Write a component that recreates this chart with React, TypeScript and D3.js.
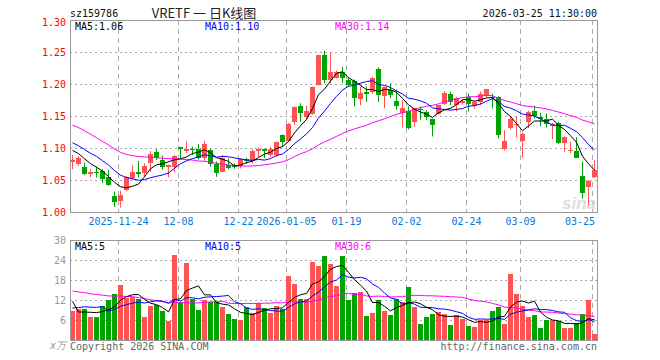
import React from 'react';
import * as d3 from 'd3';

// ---- data ----
const open = [1.078,1.075,1.071,1.060,1.063,1.064,1.054,1.025,1.017,1.035,
1.053,1.062,1.061,1.077,1.094,1.081,1.071,1.071,1.101,1.095,
1.099,1.099,1.084,1.097,1.075,1.063,1.073,1.072,1.072,1.083,
1.079,1.096,1.098,1.089,1.089,1.120,1.111,1.140,1.166,1.149,
1.153,1.198,1.245,1.206,1.210,1.218,1.206,1.204,1.176,1.187,
1.188,1.224,1.181,1.191,1.173,1.154,1.158,1.140,1.161,1.157,
1.145,1.153,1.169,1.184,1.167,1.171,1.179,1.166,1.172,1.182,
1.180,1.180,1.098,1.131,1.136,1.111,1.140,1.158,1.148,1.145,
1.135,1.139,1.108,1.096,1.095,1.056,1.039,1.054];

const high = [1.089,1.087,1.077,1.067,1.071,1.067,1.066,1.032,1.033,1.056,
1.073,1.080,1.076,1.095,1.099,1.088,1.074,1.089,1.101,1.110,
1.102,1.106,1.111,1.099,1.079,1.089,1.084,1.076,1.084,1.085,
1.098,1.101,1.099,1.102,1.110,1.121,1.139,1.165,1.170,1.166,
1.196,1.245,1.252,1.250,1.221,1.227,1.211,1.207,1.196,1.196,
1.211,1.226,1.196,1.201,1.191,1.175,1.165,1.162,1.165,1.159,
1.146,1.167,1.189,1.188,1.180,1.175,1.185,1.174,1.188,1.192,
1.185,1.181,1.128,1.150,1.149,1.124,1.158,1.166,1.155,1.154,
1.139,1.141,1.118,1.110,1.117,1.079,1.050,1.081];

const low = [1.067,1.072,1.058,1.054,1.054,1.045,1.041,1.008,1.007,1.033,
1.050,1.054,1.055,1.063,1.081,1.066,1.054,1.062,1.084,1.092,
1.089,1.082,1.079,1.071,1.055,1.062,1.067,1.068,1.068,1.075,
1.076,1.086,1.084,1.086,1.086,1.102,1.110,1.136,1.141,1.144,
1.152,1.198,1.201,1.201,1.209,1.201,1.196,1.165,1.167,1.172,
1.185,1.172,1.162,1.178,1.160,1.132,1.129,1.133,1.144,1.144,
1.118,1.152,1.167,1.167,1.157,1.168,1.157,1.162,1.167,1.179,
1.162,1.115,1.096,1.129,1.117,1.085,1.131,1.146,1.134,1.132,
1.114,1.106,1.094,1.092,1.085,1.021,1.011,1.053];

const close = [1.082,1.084,1.060,1.062,1.062,1.051,1.042,1.015,1.027,1.054,
1.063,1.059,1.072,1.090,1.085,1.071,1.074,1.088,1.098,1.099,
1.098,1.085,1.106,1.075,1.061,1.085,1.068,1.070,1.083,1.080,
1.095,1.098,1.096,1.098,1.109,1.110,1.137,1.164,1.154,1.158,
1.196,1.245,1.206,1.218,1.218,1.209,1.198,1.178,1.186,1.185,
1.209,1.183,1.195,1.183,1.165,1.162,1.132,1.162,1.160,1.149,
1.136,1.167,1.186,1.172,1.178,1.174,1.169,1.172,1.184,1.192,
1.178,1.120,1.111,1.145,1.137,1.122,1.157,1.150,1.145,1.137,
1.137,1.108,1.117,1.097,1.085,1.029,1.049,1.066];

// volume in 万
const volume = [8.7,9.3,9.3,6.9,6.9,10.2,12,13.8,16.5,12.6,
13,12.3,6.9,10.3,10.5,8.7,5.7,25.5,11.3,23.1,
12.3,9,12,11.3,11.5,10,7.7,6.3,6.0,9.8,
8.2,11,9.6,8.2,10.2,9.2,19.3,16.9,12.2,12.2,
23.5,22.3,25.3,22.8,16.2,25.3,12,14.2,14.5,7.3,
8.2,12,8.7,7.5,12.3,11.3,16,10,4.8,6.9,
7.8,8.3,7.8,4.5,7.5,6.3,4.2,3.9,6.0,6.0,
8.7,9.9,4.8,19.8,13.8,10.2,6.9,7.5,3.6,6.0,
6.0,5.7,3.6,3.6,5.1,7.8,12,1.8];

// sessions before the first visible candle (only feed the moving averages)
const prevCloses = [1.20,1.21,1.22,1.23,1.22,1.21,1.20,1.19,
1.15,1.12,1.10,1.09,1.10,1.11,1.10,1.09,1.10,1.11,1.12,1.12,
1.13,1.12,1.12,1.11,1.12,1.11,1.10,1.10,1.09];
const prevVolumes = [18,15,17,14,16,19,15,16,17,14.5,
20,17,19,22,16,18,19,17,20,15.5,
8,7,8,7.5,7.5,25.3,9.3,7.4,7.3];

const dateTickIndex = [8, 18, 28, 36, 46, 56, 66, 75, 87];
const dateTickLabels = ['2025-11-24','12-08','12-22','2026-01-05','01-19','02-02','02-24','03-09','03-25'];
const priceTicks = [1.30, 1.25, 1.20, 1.15, 1.10, 1.05, 1.00];
const volTicks = [30, 24, 18, 12, 6];

const RED = '#ff5252';
const GREEN = '#00a400';
const GRID = '#aaaaaa';
const BORDER = '#999999';
const MONO = '"DejaVu Sans Mono", "Liberation Mono", monospace';

function movingAvg(prev: number[], vals: number[], n: number): number[] {
  const all = prev.concat(vals);
  const off = prev.length;
  return vals.map((_, i) => d3.mean(all.slice(off + i - n + 1, off + i + 1)) as number);
}

export default function App() {
  const left = 70, right = 597;
  const pTop = 20, pBot = 212, vTop = 240, vBot = 340;
  const n = close.length;
  const x = d3.scaleLinear().domain([0, n - 1]).range([72, 594]);
  const yP = d3.scaleLinear().domain([1.0, 1.3]).range([pBot, pTop]);
  const yV = d3.scaleLinear().domain([0, 30]).range([vBot, vTop]);

  const pMA5 = movingAvg(prevCloses, close, 5);
  const pMA10 = movingAvg(prevCloses, close, 10);
  const pMA30 = movingAvg(prevCloses, close, 30);
  const vMA5 = movingAvg(prevVolumes, volume, 5);
  const vMA10 = movingAvg(prevVolumes, volume, 10);
  const vMA30 = movingAvg(prevVolumes, volume, 30);

  const lineP = d3.line<number>().x((_, i) => x(i) + 0.5).y(d => yP(d));
  const lineV = d3.line<number>().x((_, i) => x(i) + 0.5).y(d => yV(d));

  const gridX = dateTickIndex.map(i => Math.round(x(i)) - 1.5);

  return (
    <svg width={660} height={360} style={{ position: 'absolute', left: 0, top: 0, background: '#fff' }}
      fontFamily={MONO} fontSize={10}>
      {/* header */}
      <text x={70} y={17} fill="#111">sz159786</text>
      <text x={204} y={18} textAnchor="middle" fontSize={13} fill="#222"
        fontFamily='"Noto Sans CJK SC", "DejaVu Serif", serif'>VRETF 一 日K线图</text>
      <text x={597} y={17} textAnchor="end" fill="#111">2026-03-25 11:30:00</text>

      {/* price grid */}
      {priceTicks.slice(1, -1).map(t => (
        <line key={'pg' + t} x1={left} x2={right} y1={Math.round(yP(t)) + 0.5} y2={Math.round(yP(t)) + 0.5}
          stroke={GRID} strokeDasharray="2,3" />
      ))}
      {gridX.map((gx, k) => (
        <line key={'pvx' + k} x1={gx} x2={gx} y1={pTop} y2={pBot} stroke={GRID} strokeDasharray="5,4" />
      ))}
      {/* watermark */}
      <text x={596} y={209} textAnchor="end" fontSize={17} fontStyle="italic" fontWeight="bold"
        fill="#dddddd" fontFamily="Arial, 'Liberation Sans', sans-serif">sina</text>

      {/* price axis labels */}
      {priceTicks.map(t => (
        <text key={'pl' + t} x={66} y={Math.max(Math.round(yP(t)) + 4, 25.5)} textAnchor="end" fill="#ff0000">
          {t.toFixed(2)}
        </text>
      ))}

      {/* candles */}
      {close.map((c, i) => {
        const o = open[i];
        const up = c >= o;
        const col = up ? RED : GREEN;
        const cx = Math.round(x(i));
        const top = Math.round(yP(Math.max(o, c)));
        const bot = Math.round(yP(Math.min(o, c)));
        return (
          <g key={'c' + i}>
            <line x1={cx + 0.5} x2={cx + 0.5} y1={yP(high[i])} y2={yP(low[i])} stroke={col} />
            <rect x={cx - 2} y={top} width={5} height={Math.max(1, bot - top)} fill={col} />
          </g>
        );
      })}

      {/* price MAs */}
      <path d={lineP(pMA30) || ''} fill="none" stroke="#ff00ff" strokeWidth={1} />
      <path d={lineP(pMA10) || ''} fill="none" stroke="#0000ff" strokeWidth={1} />
      <path d={lineP(pMA5) || ''} fill="none" stroke="#000000" strokeWidth={1} />

      <rect x={left + 0.5} y={pTop + 0.5} width={right - left} height={pBot - pTop} fill="none" stroke={BORDER} />

      <text x={75} y={30} fill="#000">MA5:1.06</text>
      <text x={205} y={30} fill="#0000ff">MA10:1.10</text>
      <text x={335} y={30} fill="#ff00ff">MA30:1.14</text>

      {/* date labels */}
      {dateTickIndex.map((idx, k) => {
        const last = k === dateTickIndex.length - 1;
        return (
          <text key={'dl' + k} x={last ? 595 : gridX[k]} y={225} textAnchor={last ? 'end' : 'middle'} fill="#0a78d2">
            {dateTickLabels[k]}
          </text>
        );
      })}

      {/* volume grid */}
      {volTicks.slice(1).map(t => (
        <line key={'vg' + t} x1={left} x2={right} y1={Math.round(yV(t)) + 0.5} y2={Math.round(yV(t)) + 0.5}
          stroke={GRID} strokeDasharray="2,3" />
      ))}
      {gridX.map((gx, k) => (
        <line key={'vvx' + k} x1={gx} x2={gx} y1={vTop} y2={vBot} stroke={GRID} strokeDasharray="5,4" />
      ))}
      {volTicks.map(t => (
        <text key={'vl' + t} x={66} y={Math.round(yV(t)) + 4} textAnchor="end" fill="#999">{t}</text>
      ))}
      <text x={66} y={349} textAnchor="end" fill="#999" fontStyle="italic">x万</text>

      {/* volume bars */}
      {volume.map((v, i) => {
        const up = close[i] >= open[i];
        const cx = Math.round(x(i));
        const top = Math.round(yV(v));
        return <rect key={'v' + i} x={cx - 2} y={top} width={5} height={vBot - top} fill={up ? RED : GREEN} />;
      })}

      <path d={lineV(vMA30) || ''} fill="none" stroke="#ff00ff" />
      <path d={lineV(vMA10) || ''} fill="none" stroke="#0000ff" />
      <path d={lineV(vMA5) || ''} fill="none" stroke="#000" />

      <rect x={left + 0.5} y={vTop + 0.5} width={right - left} height={vBot - vTop} fill="none" stroke={BORDER} />

      <text x={75} y={250} fill="#000">MA5:5</text>
      <text x={205} y={250} fill="#0000ff">MA10:5</text>
      <text x={335} y={250} fill="#ff00ff">MA30:6</text>

      <text x={70} y={350} fill="#666">Copyright 2026 SINA.COM</text>
      <text x={597} y={350} textAnchor="end" fill="#666">http://finance.sina.com.cn</text>
    </svg>
  );
}
